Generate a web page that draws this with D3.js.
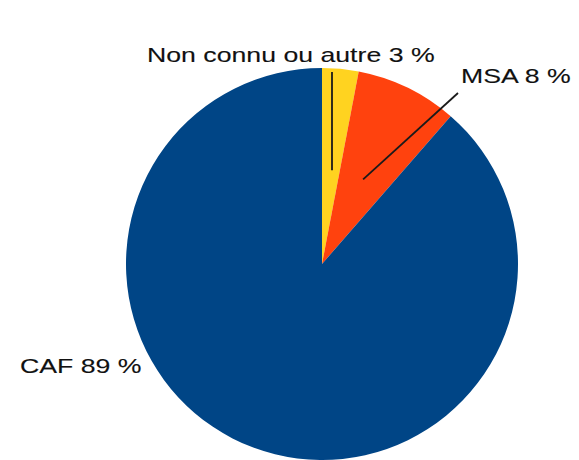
<!DOCTYPE html>
<html>
<head>
<meta charset="utf-8">
<script src="https://cdn.jsdelivr.net/npm/d3@7"></script>
<style>
  body { margin: 0; background: #fff; }
  text { font-family: "Liberation Sans", Arial, sans-serif; fill: #111; stroke: #111; stroke-width: 0.12px; }
</style>
</head>
<body>
<div id="chart"></div>
<script>
var svgWidth = 579;
var svgHeight = 460;

// slices, clockwise from 12 o'clock
var categories = ["Non connu ou autre", "MSA", "CAF"];
var values = [3.0, 8.4, 88.6];
var labels = ["Non connu ou autre 3 %", "MSA 8 %", "CAF 89 %"];
var colors = ["#ffd320", "#ff420e", "#004586"];

var cx = 322, cy = 264, radius = 196;

var svg = d3.select("#chart")
    .append("svg")
    .attr("width", svgWidth)
    .attr("height", svgHeight);

var pieGroup = svg.append("g")
    .attr("transform", `translate(${cx}, ${cy})`);

var pie = d3.pie().sort(null).value(d => d);
var arcs = pie(values);

var arc = d3.arc().innerRadius(0).outerRadius(radius);

pieGroup.selectAll("path")
    .data(arcs)
    .enter()
    .append("path")
    .attr("d", arc)
    .attr("fill", (d, i) => colors[i]);

// label positions (page coords) and where the leader line ends
var labelPos = [
    { x: 147, y: 62, lx: 332, ly: 72 },
    { x: 461, y: 83, lx: 458, ly: 93 },
    { x: 20, y: 373, lx: null, ly: null }
];

arcs.forEach(function(a, i) {
    var p = labelPos[i];
    if (p.lx !== null) {
        var ang = (a.startAngle + a.endAngle) / 2;
        var ix = cx + Math.sin(ang) * radius * 0.48;
        var iy = cy - Math.cos(ang) * radius * 0.48;
        svg.append("line")
            .attr("x1", i === 0 ? p.lx : ix)
            .attr("y1", iy)
            .attr("x2", p.lx)
            .attr("y2", p.ly)
            .attr("stroke", "#1a1a1a")
            .attr("stroke-width", 1.8);
    }
    svg.append("text")
        .attr("transform", `translate(${p.x}, ${p.y}) scale(1.27, 1)`)
        .attr("font-size", "21px")
        .text(labels[i]);
});
</script>
</body>
</html>
